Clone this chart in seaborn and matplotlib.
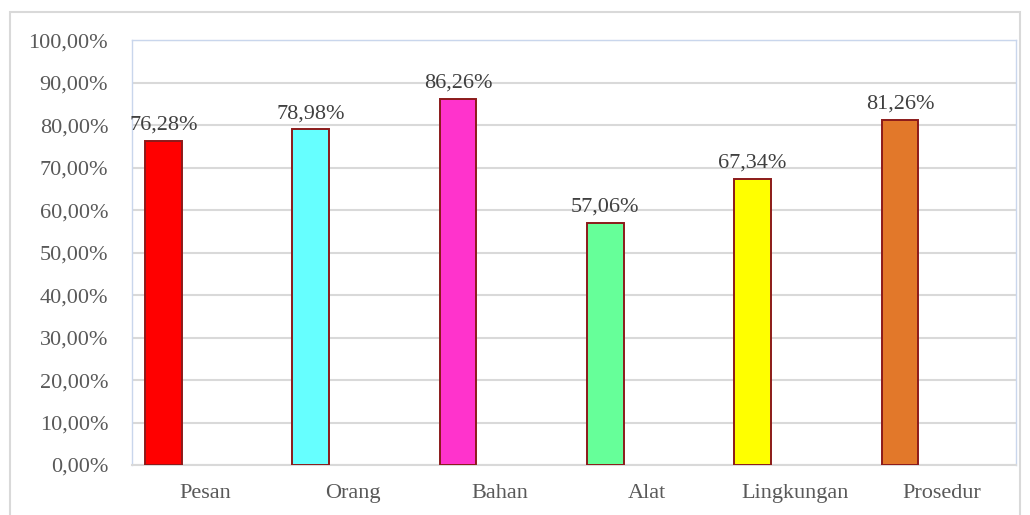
import numpy as np
import pandas as pd
import matplotlib
matplotlib.use("Agg")
import matplotlib.pyplot as plt
import seaborn as sns
from matplotlib.patches import Rectangle
from matplotlib.ticker import FuncFormatter

categories = ["Pesan", "Orang", "Bahan", "Alat", "Lingkungan", "Prosedur"]
values = [76.28, 78.98, 86.26, 57.06, 67.34, 81.26]
bar_colors = ["#FF0000", "#66FFFF", "#FF33CC", "#66FF99", "#FFFF00", "#E2782A"]

df = pd.DataFrame({"kategori": categories, "nilai": values})

sns.set_style("white")
plt.rcParams["font.family"] = ["Liberation Serif", "DejaVu Serif"]

fig = plt.figure(figsize=(10.3, 5.15), dpi=100)
ax = fig.add_axes([0.128, 0.097, 0.858, 0.825])

sns.barplot(data=df, x="kategori", y="nilai", hue="kategori",
            palette=bar_colors, legend=False, width=0.25, saturation=1,
            edgecolor="#8B1A1A", linewidth=1.4, ax=ax, zorder=3)

# bars sit left of the category centre, as in the original chart
shift = 0.285
for p in ax.patches:
    p.set_x(p.get_x() - shift)

for p, v in zip(ax.patches, values):
    ax.text(p.get_x() + p.get_width() / 2, v + 1.4, f"{v:.2f}%".replace(".", ","),
            ha="center", va="bottom", fontsize=16, color="#404040", zorder=4)

ax.set_ylim(0, 100)
ax.set_xlim(-0.5, 5.5)
ax.set_yticks(np.arange(0, 101, 10))
ax.yaxis.set_major_formatter(FuncFormatter(lambda y, _: f"{y:.2f}%".replace(".", ",")))
ax.grid(axis="y", color="#D9D9D9", linewidth=1.5, zorder=0)
ax.set_axisbelow(True)
ax.set_xlabel("")
ax.set_ylabel("")
ax.tick_params(axis="both", length=0, labelsize=16, labelcolor="#595959")
ax.tick_params(axis="x", pad=14)
ax.tick_params(axis="y", pad=17)

for side in ["left", "right", "top"]:
    ax.spines[side].set_color("#C9D6EC")
    ax.spines[side].set_linewidth(1)
ax.spines["bottom"].set_color("#D9D9D9")
ax.spines["bottom"].set_linewidth(1.5)

# outer chart border
fig.patches.append(Rectangle((0.01, -0.01), 0.98, 0.987, transform=fig.transFigure,
                             fill=False, edgecolor="#D9D9D9", linewidth=1.5))

fig.savefig("out.png", dpi=100)
